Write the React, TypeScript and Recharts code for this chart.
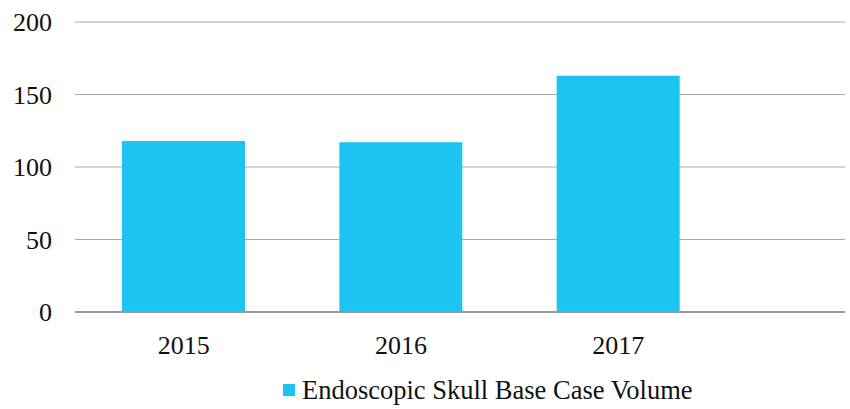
import React from 'react';
import { BarChart, Bar, XAxis, YAxis, CartesianGrid, Legend } from 'recharts';

const years = ['2015', '2016', '2017'];
const caseVolume = [118, 117, 163];
const yTicks = [0, 50, 100, 150, 200];

const data = years.map((year, i) => ({ year, volume: caseVolume[i] }));

const barColor = '#1EC4F1';
const font = '"Liberation Serif", "Times New Roman", serif';

const LegendContent = () => (
  <div style={{ display: 'flex', alignItems: 'center', fontFamily: font, fontSize: 26.5, color: '#111', lineHeight: '28px' }}>
    <span style={{ width: 12, height: 12, background: barColor, marginRight: 7, display: 'inline-block' }} />
    <span>Endoscopic Skull Base Case Volume</span>
  </div>
);

const App: React.FC = () => {
  return (
    <div style={{ position: 'absolute', left: 0, top: 0, width: 850, height: 409, background: '#fff', fontFamily: font }}>
      <BarChart width={850} height={409} data={data} margin={{ top: 22, right: 5, left: 0, bottom: 0 }}>
        <CartesianGrid vertical={false} stroke="#a8a8a8" />
        <XAxis
          dataKey="year"
          tickLine={false}
          tickSize={0}
          tickMargin={24}
          height={69}
          padding={{ left: 0, right: 118 }}
          axisLine={{ stroke: '#999', strokeWidth: 2 }}
          tick={{ fontSize: 26, fill: '#111', fontFamily: font }}
        />
        <YAxis
          width={75}
          domain={[0, 200]}
          ticks={yTicks}
          axisLine={false}
          tickLine={false}
          tickSize={0}
          tickMargin={23}
          tick={{ fontSize: 26, fill: '#111', fontFamily: font }}
        />
        <Legend
          content={<LegendContent />}
          wrapperStyle={{ left: 283, top: 376, width: 'auto' }}
        />
        <Bar dataKey="volume" fill={barColor} barSize={123} isAnimationActive={false} />
      </BarChart>
    </div>
  );
};

export default App;
